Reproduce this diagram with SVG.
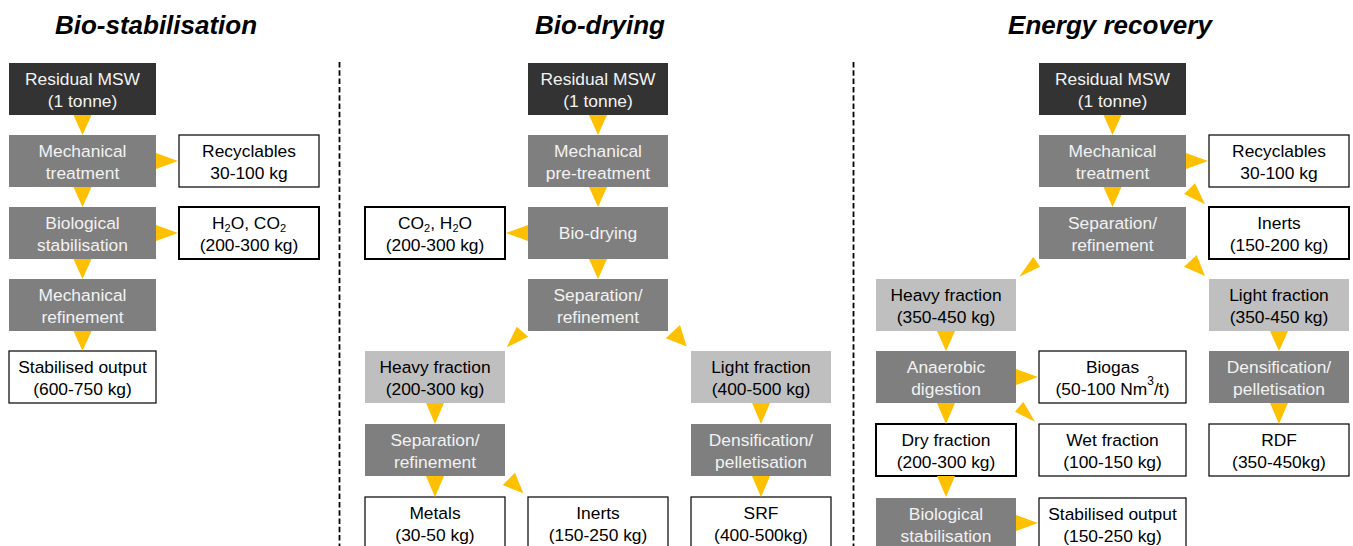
<svg xmlns="http://www.w3.org/2000/svg" width="1353" height="546" viewBox="0 0 1353 546">
<style>
.dark{fill:#333333}
.gray{fill:#7f7f7f}
.light{fill:#bfbfbf}
.white{fill:#ffffff;stroke:#000000;stroke-width:1.2}
.thick{stroke-width:2}
.t{font-family:"Liberation Sans",Arial,sans-serif;font-size:17.4px;text-anchor:middle}
.tw{fill:#f2f2f2}
.tk{fill:#000000}
.title{font-family:"Liberation Sans",Arial,sans-serif;font-size:26px;font-weight:bold;font-style:italic;text-anchor:middle;fill:#000000}
.arr{fill:#ffc000}
.sep{stroke:#000000;stroke-width:1.8;stroke-dasharray:5.5 2.8;fill:none}
</style>
<rect x="0" y="0" width="1353" height="546" fill="#ffffff"/>

<g id="titles">
<text class="title" x="156" y="34">Bio-stabilisation</text>
<text class="title" x="600" y="34">Bio-drying</text>
<text class="title" x="1110" y="34">Energy recovery</text>
</g>

<g id="separators">
<line class="sep" x1="339.5" y1="62" x2="339.5" y2="546"/>
<line class="sep" x1="853.5" y1="62" x2="853.5" y2="546"/>
</g>

<!-- Bio-stabilisation -->
<g id="bs-msw"><rect class="dark" x="9" y="63" width="147" height="52"/>
<text class="t tw"><tspan x="82.5" y="84.5">Residual MSW</tspan><tspan x="82.5" y="106.5">(1 tonne)</tspan></text></g>
<g id="bs-mech"><rect class="gray" x="9" y="135" width="147" height="52"/>
<text class="t tw"><tspan x="82.5" y="156.5">Mechanical</tspan><tspan x="82.5" y="178.5">treatment</tspan></text></g>
<g id="bs-recyc"><rect class="white" x="179" y="135" width="140" height="52"/>
<text class="t tk"><tspan x="249" y="156.5">Recyclables</tspan><tspan x="249" y="178.5">30-100 kg</tspan></text></g>
<g id="bs-bio"><rect class="gray" x="9" y="207" width="147" height="52"/>
<text class="t tw"><tspan x="82.5" y="228.5">Biological</tspan><tspan x="82.5" y="250.5">stabilisation</tspan></text></g>
<g id="bs-h2o"><rect class="white thick" x="179" y="207" width="140" height="52"/>
<text class="t tk"><tspan x="249" y="228.5">H<tspan font-size="11" dy="3">2</tspan><tspan dy="-3">O, CO</tspan><tspan font-size="11" dy="3">2</tspan></tspan><tspan x="249" y="250.5">(200-300 kg)</tspan></text></g>
<g id="bs-refine"><rect class="gray" x="9" y="279" width="147" height="52"/>
<text class="t tw"><tspan x="82.5" y="300.5">Mechanical</tspan><tspan x="82.5" y="322.5">refinement</tspan></text></g>
<g id="bs-out"><rect class="white" x="9" y="351" width="147" height="52"/>
<text class="t tk"><tspan x="82.5" y="372.5">Stabilised output</tspan><tspan x="82.5" y="394.5">(600-750 kg)</tspan></text></g>

<!-- Bio-drying -->
<g id="bd-msw"><rect class="dark" x="528" y="63" width="140" height="52"/>
<text class="t tw"><tspan x="598" y="84.5">Residual MSW</tspan><tspan x="598" y="106.5">(1 tonne)</tspan></text></g>
<g id="bd-mech"><rect class="gray" x="528" y="135" width="140" height="52"/>
<text class="t tw"><tspan x="598" y="156.5">Mechanical</tspan><tspan x="598" y="178.5">pre-treatment</tspan></text></g>
<g id="bd-co2"><rect class="white thick" x="365" y="207" width="140" height="52"/>
<text class="t tk"><tspan x="435" y="228.5">CO<tspan font-size="11" dy="3">2</tspan><tspan dy="-3">, H</tspan><tspan font-size="11" dy="3">2</tspan><tspan dy="-3">O</tspan></tspan><tspan x="435" y="250.5">(200-300 kg)</tspan></text></g>
<g id="bd-dry"><rect class="gray" x="528" y="207" width="140" height="52"/>
<text class="t tw" x="598" y="239">Bio-drying</text></g>
<g id="bd-sep"><rect class="gray" x="528" y="279" width="140" height="52"/>
<text class="t tw"><tspan x="598" y="300.5">Separation/</tspan><tspan x="598" y="322.5">refinement</tspan></text></g>
<g id="bd-heavy"><rect class="light" x="365" y="351" width="140" height="52"/>
<text class="t tk"><tspan x="435" y="372.5">Heavy fraction</tspan><tspan x="435" y="394.5">(200-300 kg)</tspan></text></g>
<g id="bd-light"><rect class="light" x="691" y="351" width="140" height="52"/>
<text class="t tk"><tspan x="761" y="372.5">Light fraction</tspan><tspan x="761" y="394.5">(400-500 kg)</tspan></text></g>
<g id="bd-sep2"><rect class="gray" x="365" y="424" width="140" height="52"/>
<text class="t tw"><tspan x="435" y="445.5">Separation/</tspan><tspan x="435" y="467.5">refinement</tspan></text></g>
<g id="bd-dens"><rect class="gray" x="691" y="424" width="140" height="52"/>
<text class="t tw"><tspan x="761" y="445.5">Densification/</tspan><tspan x="761" y="467.5">pelletisation</tspan></text></g>
<g id="bd-metals"><rect class="white" x="365" y="497" width="140" height="60"/>
<text class="t tk"><tspan x="435" y="518.5">Metals</tspan><tspan x="435" y="540.5">(30-50 kg)</tspan></text></g>
<g id="bd-inerts"><rect class="white" x="528" y="497" width="140" height="60"/>
<text class="t tk"><tspan x="598" y="518.5">Inerts</tspan><tspan x="598" y="540.5">(150-250 kg)</tspan></text></g>
<g id="bd-srf"><rect class="white" x="691" y="497" width="140" height="60"/>
<text class="t tk"><tspan x="761" y="518.5">SRF</tspan><tspan x="761" y="540.5">(400-500kg)</tspan></text></g>

<!-- Energy recovery -->
<g id="er-msw"><rect class="dark" x="1039" y="63" width="147" height="52"/>
<text class="t tw"><tspan x="1112.5" y="84.5">Residual MSW</tspan><tspan x="1112.5" y="106.5">(1 tonne)</tspan></text></g>
<g id="er-mech"><rect class="gray" x="1039" y="135" width="147" height="52"/>
<text class="t tw"><tspan x="1112.5" y="156.5">Mechanical</tspan><tspan x="1112.5" y="178.5">treatment</tspan></text></g>
<g id="er-recyc"><rect class="white" x="1209" y="135" width="140" height="52"/>
<text class="t tk"><tspan x="1279" y="156.5">Recyclables</tspan><tspan x="1279" y="178.5">30-100 kg</tspan></text></g>
<g id="er-sep"><rect class="gray" x="1039" y="207" width="147" height="52"/>
<text class="t tw"><tspan x="1112.5" y="228.5">Separation/</tspan><tspan x="1112.5" y="250.5">refinement</tspan></text></g>
<g id="er-inerts"><rect class="white thick" x="1209" y="207" width="140" height="52"/>
<text class="t tk"><tspan x="1279" y="228.5">Inerts</tspan><tspan x="1279" y="250.5">(150-200 kg)</tspan></text></g>
<g id="er-heavy"><rect class="light" x="876" y="279" width="140" height="52"/>
<text class="t tk"><tspan x="946" y="300.5">Heavy fraction</tspan><tspan x="946" y="322.5">(350-450 kg)</tspan></text></g>
<g id="er-light"><rect class="light" x="1209" y="279" width="140" height="52"/>
<text class="t tk"><tspan x="1279" y="300.5">Light fraction</tspan><tspan x="1279" y="322.5">(350-450 kg)</tspan></text></g>
<g id="er-ad"><rect class="gray" x="876" y="351" width="140" height="52"/>
<text class="t tw"><tspan x="946" y="372.5">Anaerobic</tspan><tspan x="946" y="394.5">digestion</tspan></text></g>
<g id="er-biogas"><rect class="white" x="1039" y="351" width="147" height="52"/>
<text class="t tk"><tspan x="1112.5" y="372.5">Biogas</tspan><tspan x="1112.5" y="394.5">(50-100 Nm<tspan font-size="12" dy="-10">3</tspan><tspan dy="10">/t)</tspan></tspan></text></g>
<g id="er-dens"><rect class="gray" x="1209" y="351" width="140" height="52"/>
<text class="t tw"><tspan x="1279" y="372.5">Densification/</tspan><tspan x="1279" y="394.5">pelletisation</tspan></text></g>
<g id="er-dry"><rect class="white thick" x="876" y="424" width="140" height="52"/>
<text class="t tk"><tspan x="946" y="445.5">Dry fraction</tspan><tspan x="946" y="467.5">(200-300 kg)</tspan></text></g>
<g id="er-wet"><rect class="white" x="1039" y="424" width="147" height="52"/>
<text class="t tk"><tspan x="1112.5" y="445.5">Wet fraction</tspan><tspan x="1112.5" y="467.5">(100-150 kg)</tspan></text></g>
<g id="er-rdf"><rect class="white" x="1209" y="424" width="140" height="52"/>
<text class="t tk"><tspan x="1279" y="445.5">RDF</tspan><tspan x="1279" y="467.5">(350-450kg)</tspan></text></g>
<g id="er-bio"><rect class="gray" x="876" y="498" width="140" height="60"/>
<text class="t tw"><tspan x="946" y="519.5">Biological</tspan><tspan x="946" y="541.5">stabilisation</tspan></text></g>
<g id="er-out"><rect class="white" x="1039" y="498" width="147" height="60"/>
<text class="t tk"><tspan x="1112.5" y="519.5">Stabilised output</tspan><tspan x="1112.5" y="541.5">(150-250 kg)</tspan></text></g>

<g id="connectors" class="arr">
<!-- bio-stabilisation -->
<polygon points="73.5,115 91.5,115 82.5,135"/>
<polygon points="73.5,187 91.5,187 82.5,207"/>
<polygon points="73.5,259 91.5,259 82.5,279"/>
<polygon points="73.5,331 91.5,331 82.5,351"/>
<polygon points="156,153 156,169 178,161"/>
<polygon points="156,225 156,241 178,233"/>
<!-- bio-drying -->
<polygon points="589,115 607,115 598,135"/>
<polygon points="589,187 607,187 598,207"/>
<polygon points="589,259 607,259 598,279"/>
<polygon points="528,225 528,241 506,233"/>
<polygon points="516.7,326.7 528.3,336.7 506.7,347.3"/>
<polygon points="680,325 665.7,338.3 686.7,346.5"/>
<polygon points="426,403 444,403 435,424"/>
<polygon points="426,476 444,476 435,497"/>
<polygon points="752,403 770,403 761,424"/>
<polygon points="752,476 770,476 761,497"/>
<polygon points="515,472.7 502.7,485 523.3,493.3"/>
<!-- energy recovery -->
<polygon points="1103.5,115 1121.5,115 1112.5,135"/>
<polygon points="1103.5,187 1121.5,187 1112.5,207"/>
<polygon points="1186,153 1186,169 1208,161"/>
<polygon points="1195,183.3 1184,194 1205,204.3"/>
<polygon points="1033.3,256.7 1040,266.7 1019.3,276.7"/>
<polygon points="1196.7,255 1184,266.7 1205,276"/>
<polygon points="937,331 955,331 946,351"/>
<polygon points="937,403 955,403 946,424"/>
<polygon points="937,476 955,476 946,497"/>
<polygon points="1270,331 1288,331 1279,351"/>
<polygon points="1270,403 1288,403 1279,424"/>
<polygon points="1016,369 1016,385 1038,377"/>
<polygon points="1023.3,401.7 1015,411.7 1035,421.7"/>
<polygon points="1016,515 1016,531 1038,523"/>
</g>
</svg>
